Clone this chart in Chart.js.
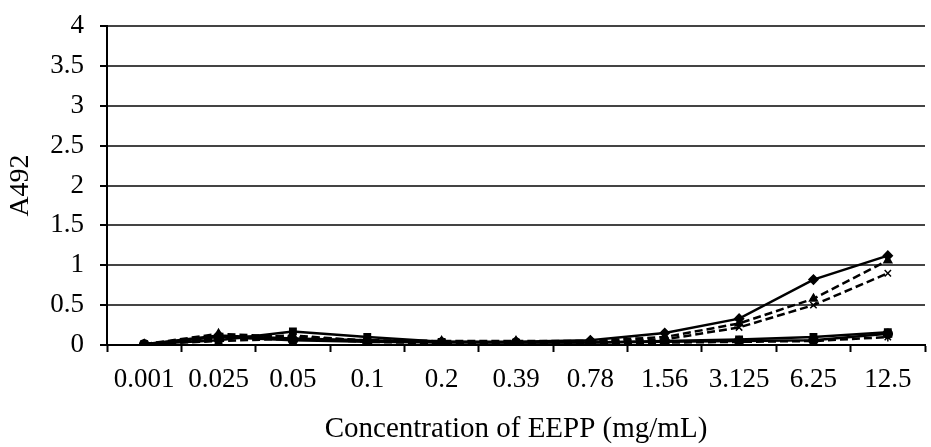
<!DOCTYPE html>
<html>
<head>
<meta charset="utf-8">
<script src="https://cdn.jsdelivr.net/npm/chart.js@4/dist/chart.umd.min.js"></script>
<style>
    html, body { margin: 0; padding: 0; background: #fff; }
    #contenedor { width: 931px; height: 447px; }
</style>
</head>
<body>
<div id="contenedor"><canvas id="grafico"></canvas></div>
<script>
//DATOS DEL GRAFICO
var concentraciones = ['0.001', '0.025', '0.05', '0.1', '0.2', '0.39', '0.78', '1.56', '3.125', '6.25', '12.5'];
var serie1 = [0.01, 0.12, 0.08, 0.06, 0.04, 0.04, 0.06, 0.15, 0.33, 0.82, 1.12];
var serie2 = [0.01, 0.06, 0.17, 0.10, 0.04, 0.03, 0.03, 0.05, 0.07, 0.10, 0.16];
var serie3 = [0.01, 0.14, 0.10, 0.06, 0.05, 0.05, 0.05, 0.10, 0.27, 0.58, 1.06];
var serie4 = [0.01, 0.08, 0.12, 0.05, 0.03, 0.03, 0.04, 0.07, 0.22, 0.50, 0.90];
var serie5 = [0.01, 0.05, 0.08, 0.04, 0.02, 0.02, 0.02, 0.03, 0.04, 0.05, 0.10];
var serie6 = [0.01, 0.10, 0.06, 0.04, 0.03, 0.03, 0.03, 0.04, 0.05, 0.06, 0.14];
var marcasY = [0, 0.5, 1, 1.5, 2, 2.5, 3, 3.5, 4];

var fuente = "'Liberation Serif', 'Times New Roman', serif";

function serie(datos, punto, guiones) {
    return {
        data: datos,
        borderColor: '#000',
        backgroundColor: '#000',
        borderWidth: 2.5,
        borderDash: guiones,
        pointStyle: punto,
        pointRadius: 4.5,
        pointBorderWidth: 1.5,
        pointBorderColor: '#000',
        pointBackgroundColor: '#000',
        tension: 0
    };
}

var valores = {
    labels: concentraciones,
    datasets: [
        serie(serie1, 'rectRot', []),
        serie(serie2, 'rect', []),
        serie(serie3, 'triangle', [8, 4]),
        serie(serie4, 'crossRot', [8, 4]),
        serie(serie5, 'star', [8, 4]),
        serie(serie6, 'circle', [])
    ]
};

//OPCIONES DEL GRAFICO
var opciones = {
    responsive: true,
    maintainAspectRatio: false,
    animation: false,
    layout: {
        padding: { top: 26, right: 0, left: 0, bottom: 0 }
    },
    plugins: {
        legend: { display: false },
        tooltip: { enabled: false }
    },
    scales: {
        x: {
            offset: true,
            afterFit: function (eje) {
                eje.height = 102;
                eje.paddingLeft = 0;
                eje.paddingRight = 0;
            },
            grid: {
                offset: true,
                drawOnChartArea: false,
                drawTicks: true,
                tickLength: 7,
                tickColor: '#000',
                tickWidth: 2
            },
            border: { color: '#000', width: 2 },
            ticks: {
                color: '#000',
                padding: 12,
                maxRotation: 0,
                autoSkip: false,
                font: { family: fuente, size: 27 }
            },
            title: {
                display: true,
                text: 'Concentration of EEPP (mg/mL)',
                color: '#000',
                padding: { top: 0, bottom: 0 },
                font: { family: fuente, size: 29 }
            }
        },
        y: {
            min: 0,
            max: 4,
            afterFit: function (eje) {
                eje.width = 107;
                eje.paddingTop = 0;
                eje.paddingBottom = 0;
            },
            afterBuildTicks: function (eje) {
                eje.ticks = marcasY.map(function (v) { return { value: v }; });
            },
            grid: {
                color: '#444',
                lineWidth: 2,
                drawTicks: true,
                tickLength: 7,
                tickColor: '#000',
                tickWidth: 2
            },
            border: { color: '#000', width: 2 },
            ticks: {
                color: '#000',
                padding: 16,
                font: { family: fuente, size: 27 },
                callback: function (valor) { return String(valor); }
            },
            title: {
                display: true,
                text: 'A492',
                color: '#000',
                padding: { top: 4, bottom: 0 },
                font: { family: fuente, size: 28 }
            }
        }
    }
};

var grafico = new Chart(document.getElementById('grafico'), {
    type: 'line',
    data: valores,
    options: opciones
});
</script>
</body>
</html>
